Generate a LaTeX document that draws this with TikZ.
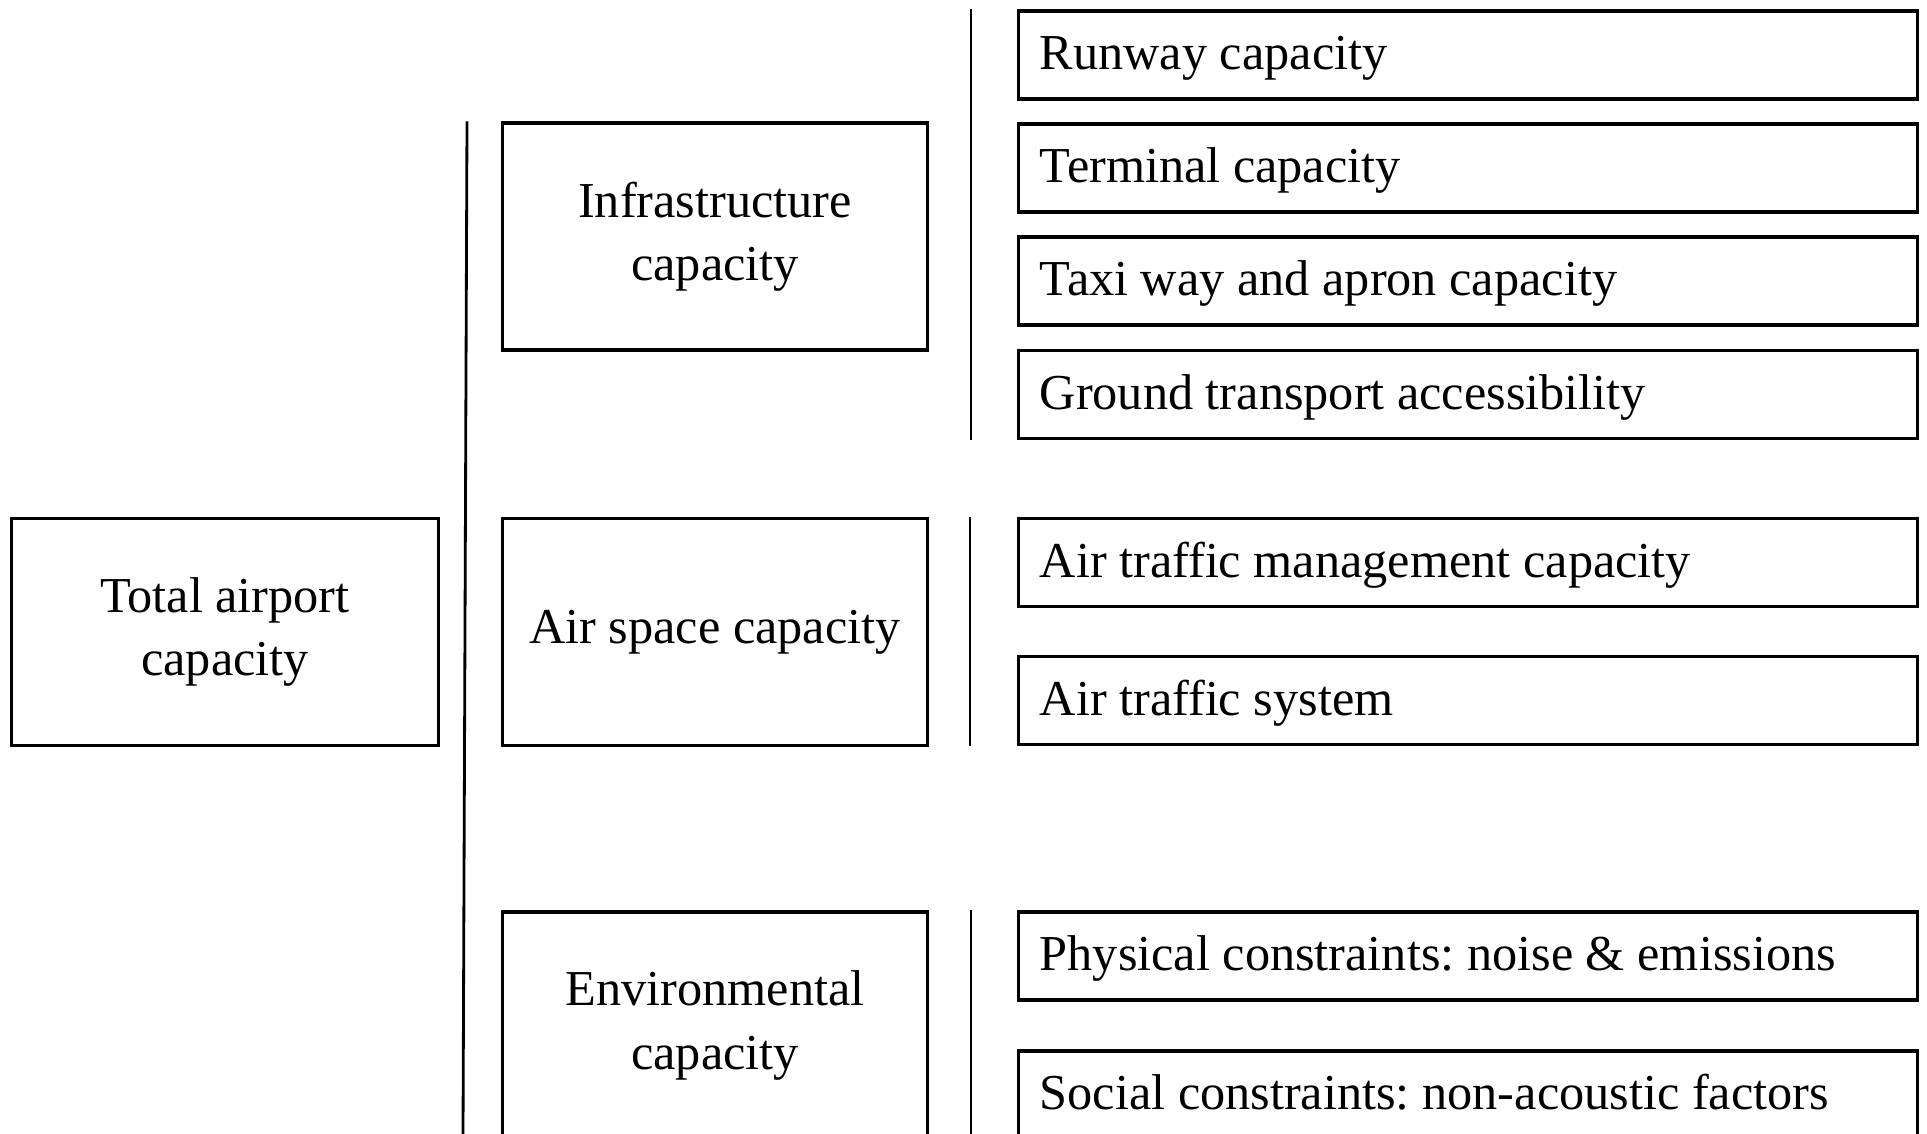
\documentclass[tikz,border=0pt]{standalone}
\usepackage{fontspec}
\setmainfont{Liberation Serif}
\frenchspacing
\begin{document}
\begin{tikzpicture}[x=0.01cm, y=-0.01cm,
	capbox/.style={rectangle, align=center, fill=white, draw, line width=0.9pt, minimum width=4.24cm, minimum height=2.27cm, font=\fontsize{14.3}{18}\selectfont},
	itembox/.style={rectangle, fill=white, draw, line width=0.9pt, text width=8.56cm, text height=1.05em, text depth=0.22em, inner xsep=0.21cm, inner ysep=1pt, minimum height=0.88cm, font=\fontsize{14.3}{18}\selectfont, execute at begin node={\spaceskip=0pt\xspaceskip=0pt\rightskip=0pt plus 1fil}},
	bar/.style={line width=0.8pt}]
	\useasboundingbox (0,0) rectangle (1927,1134);
	\clip (0,0) rectangle (1927,1134);
	%Nodes:
	\node[capbox, minimum width=4.26cm] (total) at (225,632) {Total airport\\capacity};
	\node[capbox] (infra) at (715,236.5) {Infrastructure\\capacity};
	\node[capbox] (air) at (715,632) {Air space capacity};
	\node[capbox] (env) at (715,1025.5) {Environmental\\capacity};
	\node[itembox] (runway) at (1468,55) {Runway capacity};
	\node[itembox] (terminal) at (1468,168) {Terminal capacity};
	\node[itembox] (taxi) at (1468,281) {Taxi way and apron capacity};
	\node[itembox] (ground) at (1468,394.5) {Ground transport accessibility};
	\node[itembox] (atm) at (1468,562.5) {Air traffic management capacity};
	\node[itembox] (ats) at (1468,700.5) {Air traffic system};
	\node[itembox] (physical) at (1468,956) {Physical constraints: noise \& emissions};
	\node[itembox] (social) at (1468,1095) {Social constraints: non-acoustic factors};
	%Bars:
	\coordinate (mainbot) at (463,1134);
	\coordinate (envbot) at (971,1134);
	\draw[bar] (infra.north west -| 467,0) -- (mainbot);
	\draw[bar] (runway.north west -| 971,0) -- (ground.south west -| 971,0);
	\draw[bar] (atm.north west -| 970,0) -- (ats.south west -| 970,0);
	\draw[bar] (physical.north west -| 971,0) -- (envbot);
\end{tikzpicture}
\end{document}
